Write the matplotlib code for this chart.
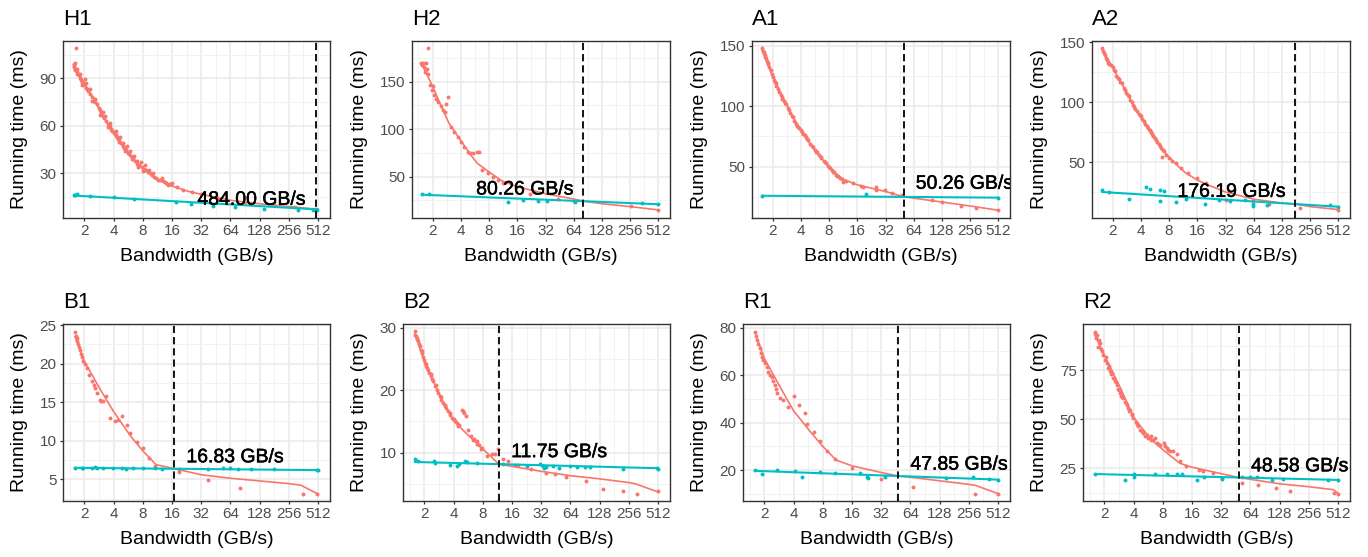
import matplotlib
matplotlib.use('Agg')
import matplotlib.pyplot as plt
from matplotlib.ticker import FixedLocator, NullFormatter
from matplotlib import patheffects as pe

plt.rcParams['font.family'] = ['Liberation Sans', 'DejaVu Sans']

# ---------------- data ----------------
titles = ['H1', 'H2', 'A1', 'A2', 'B1', 'B2', 'R1', 'R2']
crossover = [484.00, 80.26, 50.26, 176.19, 16.83, 11.75, 47.85, 48.58]
x_ticks = [2, 4, 8, 16, 32, 64, 128, 256, 512]
x_tick_labels = ['2', '4', '8', '16', '32', '64', '128', '256', '512']
y_ticks = [[30, 60, 90], [50, 100, 150], [50, 100, 150], [50, 100, 150],
           [5, 10, 15, 20, 25], [10, 20, 30], [20, 40, 60, 80], [25, 50, 75]]

H1_red = [(1.55, 99), (1.57, 98), (1.58, 97), (1.6, 100), (1.62, 96), (1.65, 95), (1.65, 109), (1.68, 94),
          (1.7, 93), (1.75, 92), (1.8, 90), (1.85, 89), (1.9, 88), (1.95, 87), (2.0, 86), (2.05, 89.6),
          (2.1, 84), (2.15, 83), (2.2, 82), (2.3, 80), (2.4, 78), (2.5, 76), (2.6, 75), (2.73, 73.6),
          (2.8, 71), (2.9, 70), (3.0, 68), (3.1, 66), (3.2, 65), (3.35, 63), (3.5, 61), (3.65, 60),
          (3.8, 58), (3.9, 57), (4.0, 56), (4.1, 56), (4.2, 54), (4.3, 53), (4.4, 52), (4.6, 50),
          (4.8, 49), (5.0, 47), (5.1, 46), (5.2, 46), (5.4, 45), (5.6, 43), (5.8, 42), (6.0, 41),
          (6.3, 40), (6.6, 38), (7.0, 36), (7.4, 35), (7.8, 34), (8.2, 33), (8.6, 32), (9.0, 31),
          (9.5, 30.4), (10, 29), (10.5, 28), (11, 27), (12, 26), (13, 25), (14, 24), (15, 23.5),
          (16.1, 24), (18, 21.5), (21, 19.5), (26, 18), (32, 17), (48, 14.5), (90, 12), (180, 10),
          (300, 8.5), (480, 7.5),
          (1.6, 95), (1.7, 96), (1.8, 93), (1.9, 86), (2.1, 87), (2.3, 83), (2.4, 76), (2.6, 77),
          (2.9, 67), (3.1, 69), (3.3, 66), (3.5, 59), (3.7, 62), (4.2, 57), (4.5, 51), (4.7, 53),
          (5.0, 49), (5.3, 44), (5.5, 47), (5.9, 44), (6.2, 39), (6.5, 41), (6.9, 38), (7.2, 34),
          (7.6, 37), (8.0, 31.5), (8.4, 35), (9.2, 32), (10.2, 30), (11.5, 26), (12.5, 27),
          (13.5, 24.5), (14.5, 22.5), (15.5, 23)]
H1_red_fit = [(1.55, 98.5), (2, 87), (2.5, 77), (3, 68), (4, 55), (5, 47), (6, 41), (8, 33), (10, 28.5),
              (12, 25.5), (16, 22), (24, 18.5), (32, 16.8), (64, 13), (128, 10.8), (256, 9), (512, 7.3)]
H1_cyan = [(1.57, 16.3), (1.62, 16.6), (1.69, 16.9), (2.29, 15.9), (4.07, 14.8), (6.5, 13.8), (17.8, 11.7),
           (25, 10.6), (42.5, 9.6), (72, 8.5), (142, 7.5), (320, 6.8), (455, 6.8), (500, 7.0)]
H1_cyan_fit = [(1.57, 16.0), (512, 7.2)]

H2_red = [(1.5, 170), (1.55, 168), (1.58, 170), (1.62, 165), (1.65, 160), (1.7, 170), (1.73, 163),
          (1.77, 185), (1.8, 158), (1.87, 146.5), (1.95, 141), (2.0, 145), (2.08, 136), (2.17, 132),
          (2.3, 129), (2.46, 124), (2.6, 120), (2.7, 118), (2.78, 126.5), (2.9, 134), (3.14, 102.6),
          (3.42, 97), (3.71, 92), (4.02, 87), (4.36, 81.6), (4.74, 76), (5.0, 74.6), (5.4, 74.6),
          (5.9, 75.5), (6.3, 76.3), (6.7, 57), (7.8, 53.5), (8.8, 50), (9.9, 46.5), (11.2, 43),
          (21.7, 31.8), (43.7, 27), (64, 24), (261, 19), (512, 15)]
H2_red_fit = [(1.55, 168), (2, 145), (2.5, 123), (3, 106), (4, 88), (5, 74), (6, 64), (8, 55), (11, 45.5),
              (16, 39.5), (32, 32), (64, 26.5), (80.26, 24.5), (128, 21.5), (256, 18.5), (512, 15)]
H2_cyan = [(1.54, 31.4), (1.85, 31.4), (12.7, 23), (18.4, 25.4), (26.7, 24.4), (33.3, 24.4), (66, 23),
           (340, 22), (512, 21.2)]
H2_cyan_fit = [(1.54, 31.0), (512, 21.0)]

A1_red = [(1.55, 147.8), (1.57, 146), (1.6, 144), (1.63, 145), (1.65, 142), (1.7, 140), (1.75, 137),
          (1.8, 135), (1.85, 132), (1.9, 130), (1.95, 127), (2.0, 124.5), (2.05, 122), (2.1, 120),
          (2.2, 117), (2.3, 114), (2.36, 112), (2.45, 109), (2.55, 106), (2.65, 104), (2.78, 102),
          (2.9, 98.5), (3.0, 96.8), (3.1, 94), (3.27, 91), (3.4, 88), (3.55, 85), (3.7, 83), (3.85, 81.7),
          (4.0, 80), (4.2, 77), (4.4, 76), (4.55, 74.8), (4.8, 72), (5.0, 69), (5.35, 66.5), (5.6, 64),
          (5.9, 62), (6.3, 59.6), (6.6, 57.5), (7.0, 55), (7.4, 52.8), (7.8, 50.5), (8.2, 48.6),
          (8.6, 47), (9.0, 45.5), (9.5, 43.5), (10, 42), (10.5, 40.5), (11.2, 37.6), (12.2, 38.4),
          (14.3, 36.8), (17.6, 34.3), (18.6, 33), (25.6, 33.5), (25.6, 31), (31.4, 30.7), (37.5, 28.5),
          (48.5, 26.6), (101, 22.5), (128, 20.5), (205, 17.8), (296, 15.6), (512, 14.2),
          (1.67, 141), (1.78, 136), (2.15, 119), (2.5, 108), (2.7, 103), (3.2, 92), (3.6, 84), (4.1, 79),
          (4.7, 72.5), (5.2, 67.5), (5.8, 62.5), (6.5, 58), (7.2, 53.5), (8.0, 49.5), (8.8, 46),
          (9.8, 42.5), (11.0, 39.5)]
A1_red_fit = [(1.55, 146), (2, 124.5), (3, 97), (4, 80), (5, 69), (6, 61), (8, 49.5), (11, 40), (16, 35),
              (32, 29.5), (50.26, 25.1), (64, 24), (128, 20.8), (256, 17.5), (512, 14)]
A1_cyan = [(1.55, 26), (20, 27.1), (512, 24.4)]
A1_cyan_fit = [(1.55, 26.0), (512, 24.4)]

A2_red = [(1.54, 145), (1.57, 143), (1.6, 141), (1.65, 139), (1.7, 137), (1.75, 135), (1.8, 133),
          (1.9, 131), (2.0, 129.7), (2.1, 126), (2.2, 122), (2.35, 119), (2.5, 115.8), (2.65, 112),
          (2.8, 108), (3.0, 104.7), (3.2, 100), (3.4, 96), (3.6, 93), (3.8, 90), (4.0, 88), (4.3, 84),
          (4.6, 80), (5.0, 77), (5.3, 73), (5.6, 70), (6.0, 67), (6.4, 63), (6.7, 53.9), (7.0, 59),
          (7.5, 56), (8.0, 53.3), (8.6, 51), (9.5, 49.2), (10.8, 45), (12.7, 40.8), (15.9, 36.7),
          (20, 32.5), (32.7, 18.6), (63, 17.8), (92, 15.3), (200, 11.7), (512, 9.7),
          (1.85, 132), (2.05, 127), (2.27, 120), (2.42, 117), (2.72, 110), (2.9, 106), (3.1, 102),
          (3.3, 98), (3.5, 94.5), (3.9, 89), (4.15, 86), (4.45, 82), (4.8, 78.5), (5.15, 75), (5.45, 71.5),
          (5.8, 68.5), (6.2, 65), (6.6, 61.5), (6.9, 60)]
A2_red_fit = [(1.54, 144), (2, 129), (3, 104), (4, 87), (5, 75), (6, 66), (8, 54), (10, 46.5), (12, 41),
              (16, 35), (20, 31.5), (32, 25), (64, 19), (128, 15.8), (176.19, 15.0), (256, 12.8), (512, 10.3)]
A2_cyan = [(1.55, 26.4), (1.85, 25), (3.0, 19.4), (4.56, 28.9), (5.0, 27.8), (6.4, 26.4), (7.0, 25.6),
           (6.4, 17.2), (9.4, 16.7), (12.2, 19.4), (19.2, 15.3), (27.3, 18.6), (35.6, 17.8), (51.6, 18.6),
           (63, 15.3), (63, 13.0), (88, 14.4), (420, 14.4), (512, 12.5)]
A2_cyan_fit = [(1.55, 25.0), (512, 12.7)]

B1_red = [(1.6, 24.1), (1.63, 23.6), (1.67, 23.3), (1.7, 22.9), (1.73, 22.6), (1.77, 22.2), (1.8, 21.8),
          (1.85, 21.3), (1.88, 20.9), (1.95, 20.3), (2.03, 19.9), (2.11, 19.4), (2.25, 18.5), (2.38, 17.7),
          (2.5, 17.2), (2.57, 16.8), (2.72, 16.2), (2.89, 15.3), (3.0, 15.1), (3.14, 15.1), (3.34, 15.75),
          (3.68, 13), (4.13, 12.5), (4.47, 12.7), (4.84, 13.2), (5.45, 12.1), (5.87, 11), (6.92, 9.9),
          (8.1, 9.1), (9.2, 7.8), (10.6, 6.7), (19, 6.0), (37.3, 4.95), (81, 3.9), (360, 3.15), (500, 3.15)]
B1_red_fit = [(1.6, 23.5), (2, 20.3), (3, 16.4), (4, 13.8), (6, 10.6), (8, 8.7), (11, 6.9), (16.83, 6.4),
              (32, 5.6), (64, 5.15), (128, 4.8), (256, 4.45), (340, 4.25), (512, 3.1)]
B1_cyan = [(1.6, 6.5), (1.88, 6.45), (1.95, 6.5), (2.38, 6.5), (2.57, 6.55), (2.67, 6.45), (3.14, 6.45),
           (3.98, 6.45), (4.84, 6.5), (5.36, 6.4), (6.4, 6.5), (8.1, 6.5), (10.6, 6.45), (12.5, 6.4),
           (19, 6.4), (38, 6.4), (54, 6.45), (64, 6.45), (76, 6.4), (105, 6.4), (180, 6.35), (500, 6.2),
           (512, 6.25)]
B1_cyan_fit = [(1.6, 6.5), (512, 6.2)]

B2_red = [(1.6, 29.4), (1.62, 28.9), (1.65, 28.6), (1.68, 28.2), (1.72, 27.8), (1.75, 27.4), (1.79, 27),
          (1.84, 26.4), (1.88, 25.9), (1.93, 25.3), (1.98, 24.8), (2.03, 24.3), (2.08, 23.8), (2.14, 23.5),
          (2.2, 23.2), (2.26, 22.7), (2.32, 22.2), (2.4, 21.8), (2.47, 21.4), (2.57, 20.7), (2.67, 20),
          (2.78, 19.5), (2.89, 19), (3.0, 18.4), (3.13, 17.9), (3.23, 17.5), (3.34, 17.1), (3.5, 16.6),
          (3.67, 16.1), (3.9, 15.5), (4.13, 15), (4.35, 14.7), (4.58, 14.5), (4.84, 16.9), (4.95, 16.6),
          (5.1, 16.3), (5.36, 15.8), (5.66, 13.7), (6.1, 12.6), (6.5, 12.2), (6.9, 11.8), (7.3, 11.2),
          (7.8, 10.7), (8.8, 9.4), (9.9, 9.7), (10.6, 9.8), (11.5, 10.5), (13, 8.9), (14.6, 8.6),
          (18.6, 8), (25, 7.3), (36, 6.8), (44, 6.5), (57, 6.1), (93, 5.4), (139, 4.2), (223, 3.8),
          (313, 3.4), (512, 3.8),
          (1.7, 28.4), (1.9, 26.2), (2.1, 24.2), (2.35, 22.6), (2.62, 20.8), (2.95, 18.9), (3.3, 17.6),
          (3.7, 16.4), (4.0, 15.4), (4.4, 14.2), (6.3, 12.0), (7.0, 11.3), (7.6, 10.6)]
B2_red_fit = [(1.6, 29), (2, 24.7), (3, 18.6), (4, 15.1), (6, 12.4), (8, 10.6), (11.75, 8.15), (16, 7.8),
              (32, 7.0), (64, 6.3), (128, 5.8), (256, 5.2), (300, 5.0), (512, 3.7)]
B2_cyan = [(1.6, 8.9), (1.73, 8.6), (2.53, 8.6), (2.57, 8.35), (3.67, 8.0), (4.3, 7.8), (4.58, 8.1),
           (5.2, 8.7), (5.45, 8.5), (6.9, 8.35), (13, 8.2), (17, 8.0), (22.7, 7.8), (31, 8.2), (33.5, 7.8),
           (34.2, 7.6), (36.3, 7.7), (42.3, 7.8), (49.4, 7.6), (63, 7.8), (75, 7.7), (89.5, 7.7),
           (101, 7.7), (223, 7.45), (500, 7.5), (512, 7.3)]
B2_cyan_fit = [(1.6, 8.5), (512, 7.5)]

R1_red = [(1.6, 78.3), (1.63, 76.5), (1.67, 74.8), (1.73, 73), (1.8, 71.3), (1.84, 69.5), (1.88, 67.8),
          (1.96, 66.3), (2.04, 65), (2.12, 63.2), (2.2, 61.5), (2.28, 60.2), (2.38, 59.4), (2.47, 57.5),
          (2.57, 56), (2.64, 54.2), (2.72, 52.4), (2.89, 50.3), (3.13, 49.7), (3.47, 46.4), (4.07, 51),
          (4.5, 47.6), (5.2, 44), (5.45, 39.6), (6.5, 36), (7.5, 32.2), (8.8, 28), (10.6, 24.5),
          (16.2, 21), (31.8, 16.4), (68, 13), (295, 10.1), (512, 10.1)]
R1_red_fit = [(1.6, 78), (2, 67), (3, 54), (4, 45), (6, 36), (8, 30), (11, 24.2), (16, 21.8), (32, 19),
              (47.85, 17.5), (64, 17), (128, 15.5), (256, 14), (300, 13.6), (512, 10.1)]
R1_cyan = [(1.6, 19.9), (1.88, 18.2), (2.67, 20), (4.14, 19.6), (4.84, 17.2), (7.5, 19.2), (10.6, 18.9),
           (19.3, 18.9), (23, 17.1), (23.5, 16.6), (34.8, 17.1), (150, 16.8), (282, 17.1), (412, 16.4),
           (512, 15.8)]
R1_cyan_fit = [(1.6, 19.7), (512, 16.0)]

R2_red = [(1.6, 94.9), (1.62, 94), (1.67, 93.2), (1.71, 87.2), (1.75, 90.5), (1.8, 89), (1.87, 86),
          (1.95, 83), (2.03, 80.5), (2.11, 78.7), (2.2, 76.5), (2.28, 74.5), (2.37, 73), (2.47, 71),
          (2.57, 69.5), (2.67, 67.7), (2.78, 65.5), (2.9, 63.4), (3.0, 62), (3.14, 60.9), (3.27, 59),
          (3.39, 57.5), (3.53, 56), (3.67, 55), (3.82, 52.5), (3.98, 50.7), (4.2, 48.5), (4.47, 46.4),
          (4.7, 44.5), (5.0, 43), (5.3, 41.5), (5.66, 40.5), (6.1, 41.3), (6.4, 39.6), (6.6, 40.5),
          (7.0, 38), (7.5, 37), (8.2, 37.9), (8.8, 35.4), (9.5, 33.7), (10.3, 33.7), (11.1, 32.3),
          (12, 28.9), (14, 26), (19.1, 24.3), (21, 23.8), (26.6, 22.6), (33, 20), (52.5, 17.5),
          (77, 16.3), (118, 15), (165, 13.3), (465, 12.4), (512, 11.9),
          (1.65, 91.5), (1.9, 85), (2.07, 82), (2.24, 77.5), (2.42, 73.5), (2.62, 69), (2.84, 65),
          (3.07, 61.5), (3.33, 58.5), (3.6, 54.5), (3.9, 52), (4.35, 47.5), (4.85, 43.8), (5.5, 41.8),
          (6.0, 39.5), (7.2, 37.5), (8.5, 36.5), (9.1, 34.5)]
R2_red_fit = [(1.6, 93), (2, 83), (3, 65), (4, 51), (6, 40), (8, 34.5), (12, 27.5), (16, 25.5), (32, 22.2),
              (48.58, 20.2), (64, 19.3), (128, 17), (256, 15.5), (460, 14), (512, 12)]
R2_cyan = [(1.6, 21.8), (3.3, 19.2), (4.0, 21.8), (4.0, 20.4), (6.6, 21.8), (8.8, 21.8), (11.1, 21.8),
           (12.5, 21.8), (18.2, 19.2), (21.4, 20.4), (32.7, 19.6), (52.5, 20.6), (63, 20.6), (74, 20.6),
           (108, 19.2), (138, 19.6), (400, 19.2), (512, 18.9)]
R2_cyan_fit = [(1.6, 22), (512, 19)]

red_points = [H1_red, H2_red, A1_red, A2_red, B1_red, B2_red, R1_red, R2_red]
red_fits = [H1_red_fit, H2_red_fit, A1_red_fit, A2_red_fit, B1_red_fit, B2_red_fit, R1_red_fit, R2_red_fit]
cyan_points = [H1_cyan, H2_cyan, A1_cyan, A2_cyan, B1_cyan, B2_cyan, R1_cyan, R2_cyan]
cyan_fits = [H1_cyan_fit, H2_cyan_fit, A1_cyan_fit, A2_cyan_fit, B1_cyan_fit, B2_cyan_fit, R1_cyan_fit, R2_cyan_fit]

# ---------------- layout / style ----------------
W, H = 1368, 557
RED = '#F8766D'
CYAN = '#00BFC4'
ylims = [(1.8, 113.6), (6.5, 192.8), (7.6, 153.9), (3.3, 151.0),
         (2.2, 25.13), (2.25, 30.6), (7.0, 81.5), (8.2, 98.8)]
label_y = [13.0, 36.0, 35.5, 24.7, 7.8, 10.0, 22.1, 25.7]
label_right = [True, True, False, True, False, False, False, False]
panel_left = [63, 412, 752, 1092, 63, 403, 743, 1083]
col_off = [0, 340, 680, 1020, 0, 340, 680, 1020]
row_top = [41, 41, 41, 41, 324, 324, 324, 324]
panel_h = 177
XMIN, XMAX = 2 ** 0.27, 2 ** 9.41

fig = plt.figure(figsize=(W / 100, H / 100), dpi=100)
fig.patch.set_facecolor('white')

for i in range(8):
    left = panel_left[i]
    right = col_off[i] + 330
    top = row_top[i]
    pw = right - left
    ax = fig.add_axes([left / W, 1 - (top + panel_h) / H, pw / W, panel_h / H])
    ax.set_facecolor('white')
    ax.set_xscale('log', base=2)
    ax.set_xlim(XMIN, XMAX)
    ax.set_ylim(*ylims[i])

    ax.set_xticks(x_ticks)
    ax.set_xticklabels(x_tick_labels)
    ax.xaxis.set_minor_locator(FixedLocator([2 ** (k + 0.5) for k in range(0, 10)]))
    ax.xaxis.set_minor_formatter(NullFormatter())
    yt = y_ticks[i]
    step = yt[1] - yt[0]
    ax.set_yticks(yt)
    ax.set_yticklabels([str(v) for v in yt])
    ymin_minor = [yt[0] - step / 2] + [v + step / 2 for v in yt]
    ax.yaxis.set_minor_locator(FixedLocator(ymin_minor))
    ax.yaxis.set_minor_formatter(NullFormatter())

    ax.grid(which='major', color='#EBEBEB', linewidth=1.2)
    ax.grid(which='minor', color='#F2F2F2', linewidth=0.7)
    ax.set_axisbelow(True)
    for s in ax.spines.values():
        s.set_color('#333333')
        s.set_linewidth(1.0)
    ax.tick_params(which='major', direction='out', length=2.5, width=0.9, color='#333333',
                   labelsize=11, labelcolor='#4D4D4D', pad=2)
    ax.tick_params(which='minor', length=0)

    rx = [p[0] for p in red_points[i]]
    ry = [p[1] for p in red_points[i]]
    cx = [p[0] for p in cyan_points[i]]
    cy = [p[1] for p in cyan_points[i]]
    ax.scatter(rx, ry, s=8, color=RED, linewidths=0, zorder=2)
    ax.scatter(cx, cy, s=8, color=CYAN, linewidths=0, zorder=2)
    ax.plot([p[0] for p in red_fits[i]], [p[1] for p in red_fits[i]], color=RED, lw=1.2, zorder=3)
    ax.plot([p[0] for p in cyan_fits[i]], [p[1] for p in cyan_fits[i]], color=CYAN, lw=1.5, zorder=3)
    ax.axvline(crossover[i], color='black', lw=1.3, dashes=(4, 2.2), zorder=4)

    c = crossover[i]
    if label_right[i]:
        tx, ha = c / 2 ** 0.32, 'right'
    else:
        tx, ha = c * 2 ** 0.42, 'left'
    ax.text(tx, label_y[i], f'{c:.2f} GB/s', ha=ha, va='center', fontsize=14, color='black',
            clip_on=True, zorder=5,
            path_effects=[pe.withStroke(linewidth=0.35, foreground='black')])

    ax.set_xlabel('Bandwidth (GB/s)', fontsize=14, color='black')
    ax.xaxis.set_label_coords(0.5, -38.5 / panel_h)
    ax.xaxis.label.set_va('center')
    ax.set_ylabel('Running time (ms)', fontsize=14, color='black')
    ax.yaxis.set_label_coords((col_off[i] + 19 - left) / pw, 0.5)
    ax.yaxis.label.set_va('center')

    fig.text(left / W, 1 - (top - 16) / H, titles[i], fontsize=16, ha='left', va='baseline',
             color='black')

fig.savefig('out.png', dpi=100, facecolor='white')
